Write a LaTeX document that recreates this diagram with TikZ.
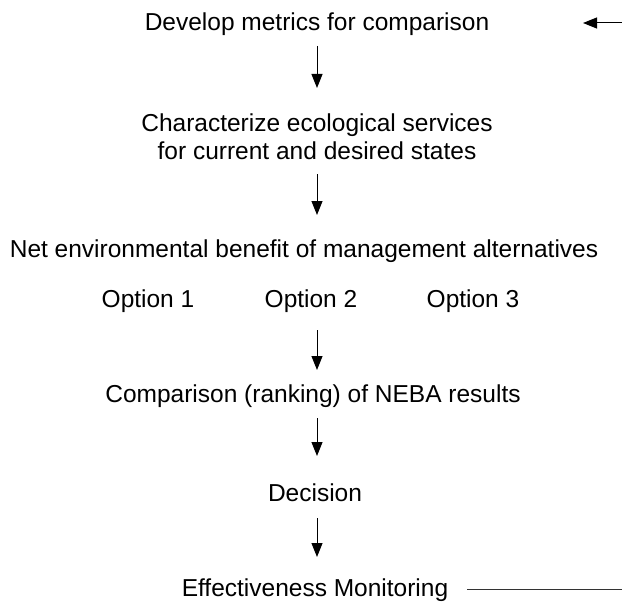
\documentclass[tikz,border=0pt]{standalone}
\usepackage{fontspec}
\setmainfont{Liberation Sans}
\usetikzlibrary{arrows.meta}
\begin{document}
\begin{tikzpicture}[x=1pt,y=-1pt,
  lbl/.style={inner sep=0pt, anchor=base, font=\fontsize{24.5}{28}\selectfont, align=center},
  flow/.style={-{Triangle[width=11pt,length=14pt]}, line width=1pt},
  loopline/.style={line width=1pt, black!80}]
  \useasboundingbox (0,0) rectangle (622,602);
  % process steps (placed by baseline; a two-line node sits on its last line)
  \node[lbl] (metrics) at (317,31) {Develop metrics for comparison};
  \node[lbl] (charac) at (317,159) {Characterize ecological services\\for current and desired states};
  \node[lbl] (neb) at (304,257) {Net environmental benefit of management alternatives};
  \node[lbl] (opt1) at (148,307) {Option 1};
  \node[lbl] (opt2) at (311,307) {Option 2};
  \node[lbl] (opt3) at (473,307) {Option 3};
  \node[lbl] (comp) at (313,402) {Comparison (ranking) of NEBA results};
  \node[lbl] (dec) at (315,501) {Decision};
  \node[lbl] (mon) at (315,596) {Effectiveness Monitoring};
  % arrows between steps
  \coordinate (a1s) at (317,46);  \coordinate (a1e) at (317,88);
  \coordinate (a2s) at (317,174); \coordinate (a2e) at (317,215);
  \coordinate (a3s) at (317,330); \coordinate (a3e) at (317,370);
  \coordinate (a4s) at (317,418); \coordinate (a4e) at (317,456);
  \coordinate (a5s) at (317,518); \coordinate (a5e) at (317,557);
  \draw[flow] (a1s) -- (a1e);
  \draw[flow] (a2s) -- (a2e);
  \draw[flow] (a3s) -- (a3e);
  \draw[flow] (a4s) -- (a4e);
  \draw[flow] (a5s) -- (a5e);
  % feedback ends
  \coordinate (fbin) at (622,23);
  \coordinate (fbtip) at (583,23);
  \coordinate (fbout) at (467,589);
  \coordinate (fbend) at (622,589);
  \draw[flow] (fbin) -- (fbtip);
  \draw[loopline] (fbout) -- (fbend);
\end{tikzpicture}
\end{document}
